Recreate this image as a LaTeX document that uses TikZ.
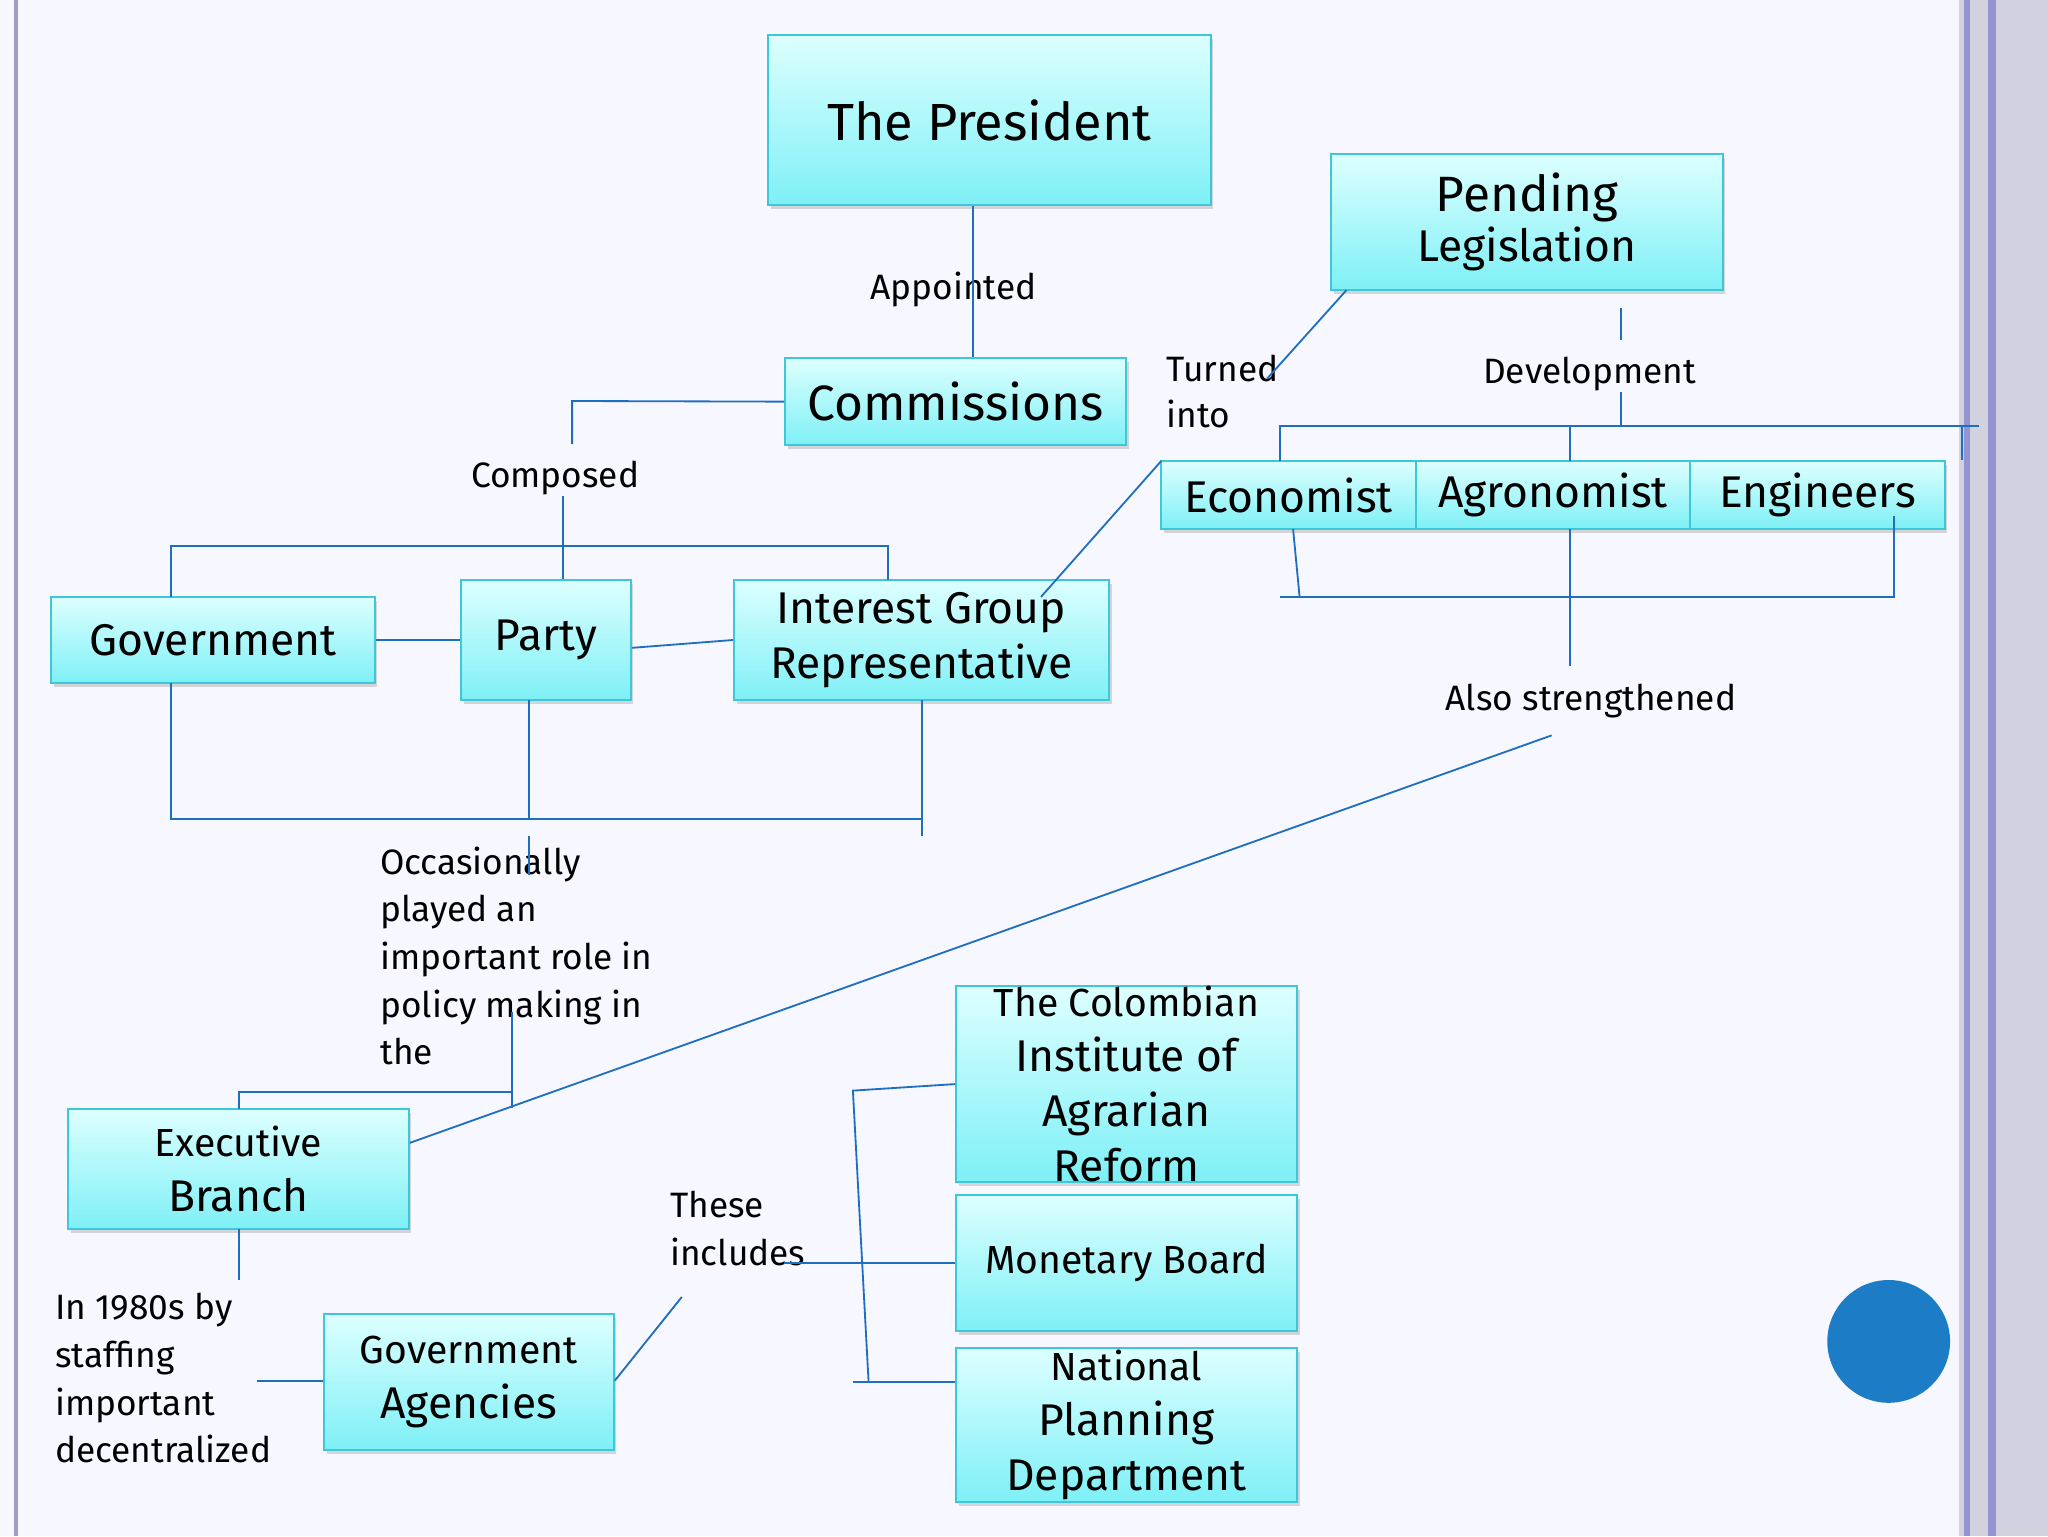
\documentclass[tikz,border=0pt]{standalone}
\usepackage{fontspec}
\setmainfont{Fira Sans}
\usetikzlibrary{shadows}
\definecolor{ln}{HTML}{1F6FC0}
\definecolor{bd}{HTML}{3CC8D8}
\definecolor{topc}{HTML}{DDFFFF}
\definecolor{botc}{HTML}{7EF0F6}
\begin{document}
\begin{tikzpicture}[x=1pt,y=-1pt,
 box/.style={draw=bd,line width=1.5pt,top color=topc,bottom color=botc,drop shadow={shadow xshift=2pt,shadow yshift=-3pt,opacity=0.3},align=center,inner sep=0pt},
 cn/.style={draw=ln,line width=1.4pt},
 lab/.style={font=\fontsize{27}{35}\selectfont,align=left,inner sep=0pt}]
\useasboundingbox (0,0) rectangle (1568,1176);
\fill[white!97!blue] (0,0) rectangle (1568,1176);
\draw[line width=3pt,blue!25!gray!60] (12,0)--(12,1176);
\fill[blue!20!gray!30] (1500,0) rectangle (1568,1176);
\draw[line width=4pt,blue!40!gray!60] (1506,0)--(1506,1176);
\draw[line width=6pt,blue!40!gray!60] (1525,0)--(1525,1176);
\newcommand\bx[6]{\node[box,minimum width=#4-#2,minimum height=#5-#3,font=\fontsize{34}{42}\selectfont] (#1) at ({(#2+#4)/2},{(#3+#5)/2}) {#6};}
\bx{pres}{588}{27}{927}{157}{\fontsize{40}{48}\selectfont The President}
\bx{pend}{1019}{118}{1319}{222}{\fontsize{38}{48}\selectfont Pending\\[-4pt]Legislation}
\bx{comm}{601}{274}{862}{341}{\fontsize{38}{46}\selectfont Commissions}
\bx{gov}{39}{457}{287}{523}{Government}
\bx{party}{353}{444}{483}{536}{Party}
\bx{ig}{562}{444}{849}{536}{Interest Group\\Representative}
\bx{eco}{889}{353}{1084}{405}{Economist}
\bx{agr}{1084}{353}{1294}{405}{Agronomist}
\bx{eng}{1294}{353}{1489}{405}{Engineers}
\bx{exe}{52}{849}{313}{941}{\fontsize{30}{38}\selectfont Executive\\Branch}
\bx{ga}{248}{1006}{470}{1110}{\fontsize{30}{38}\selectfont Government\\Agencies}
\bx{col}{732}{758}{993}{902}{\fontsize{30}{37}\selectfont The Colombian\\Institute of\\Agrarian\\Reform}
\bx{mon}{732}{915}{993}{1019}{\fontsize{30}{38}\selectfont Monetary Board}
\bx{nat}{732}{1032}{993}{1150}{\fontsize{30}{37}\selectfont National\\Planning\\Department}
\fill[ln!90!cyan] (1446,1027) circle (47);
% labels
\node[lab,anchor=center] (appt) at (730,222) {Appointed};
\node[lab] (comp) at (425,366) {Composed};
\node[lab,anchor=north west] (turn) at (893,272) {Turned\\into};
\node[lab] (dev) at (1217,286) {Development};
\node[lab] (also) at (1218,537) {Also strengthened};
\node[lab,anchor=north west,font=\fontsize{27}{36.5}\selectfont] (occ) at (291,648) {Occasionally\\played an\\important role in\\policy making in\\the};
\node[lab,anchor=north west,font=\fontsize{27}{36.5}\selectfont] (in80) at (42,990) {In 1980s by\\staffing\\important\\decentralized};
\node[lab,anchor=north west,font=\fontsize{27}{36.5}\selectfont] (these) at (513,912) {These\\includes};
% connectors
\draw[cn] (pres.south -| 745,0) -- (comm.north -| 745,0);
\draw[cn] (comm.west) -- (438,307) -- (438,340);
\draw[cn] (431,380) -- (party.north -| 431,0);
\draw[cn] (131,457) -- (131,418) -- (680,418) -- (680,444);
\draw[cn] (gov.east) -- (party.west);
\draw[cn] (party.east |- 0,496) -- (ig.west);
\draw[cn] (131,523) -- (131,627) -- (706,627);
\draw[cn] (706,536) -- (706,640);
\draw[cn] (405,536) -- (405,627);
\draw[cn] (405,640) -- (405,670);
\draw[cn] (392,775) -- (392,848);
\draw[cn] (183,849) -- (183,836) -- (392,836);
\draw[cn] (exe.east |- 0,875) -- (1188,563);
\draw[cn] (1202,405) -- (1202,510);
\draw[cn] (990,405) -- (995,457);
\draw[cn] (980,457) -- (1450,457) -- (1450,395);
\draw[cn] (797,457) -- (889,353);
\draw[cn] (1031,222) -- (970,290);
\draw[cn] (1241,236) -- (1241,260);
\draw[cn] (1241,300) -- (1241,326);
\draw[cn] (980,353) -- (980,326) -- (1515,326);
\draw[cn] (1202,326) -- (1202,353);
\draw[cn] (1502,326) -- (1502,352);
\draw[cn] (183,941) -- (183,980);
\draw[cn] (197,1057) -- (ga.west |- 0,1057);
\draw[cn] (ga.east |- 0,1057) -- (522,993);
\draw[cn] (600,967) -- (mon.west);
\draw[cn] (col.west |- 0,830) -- (653,835) -- (665,1058);
\draw[cn] (653,1058) -- (nat.west |- 0,1058);
\end{tikzpicture}
\end{document}
